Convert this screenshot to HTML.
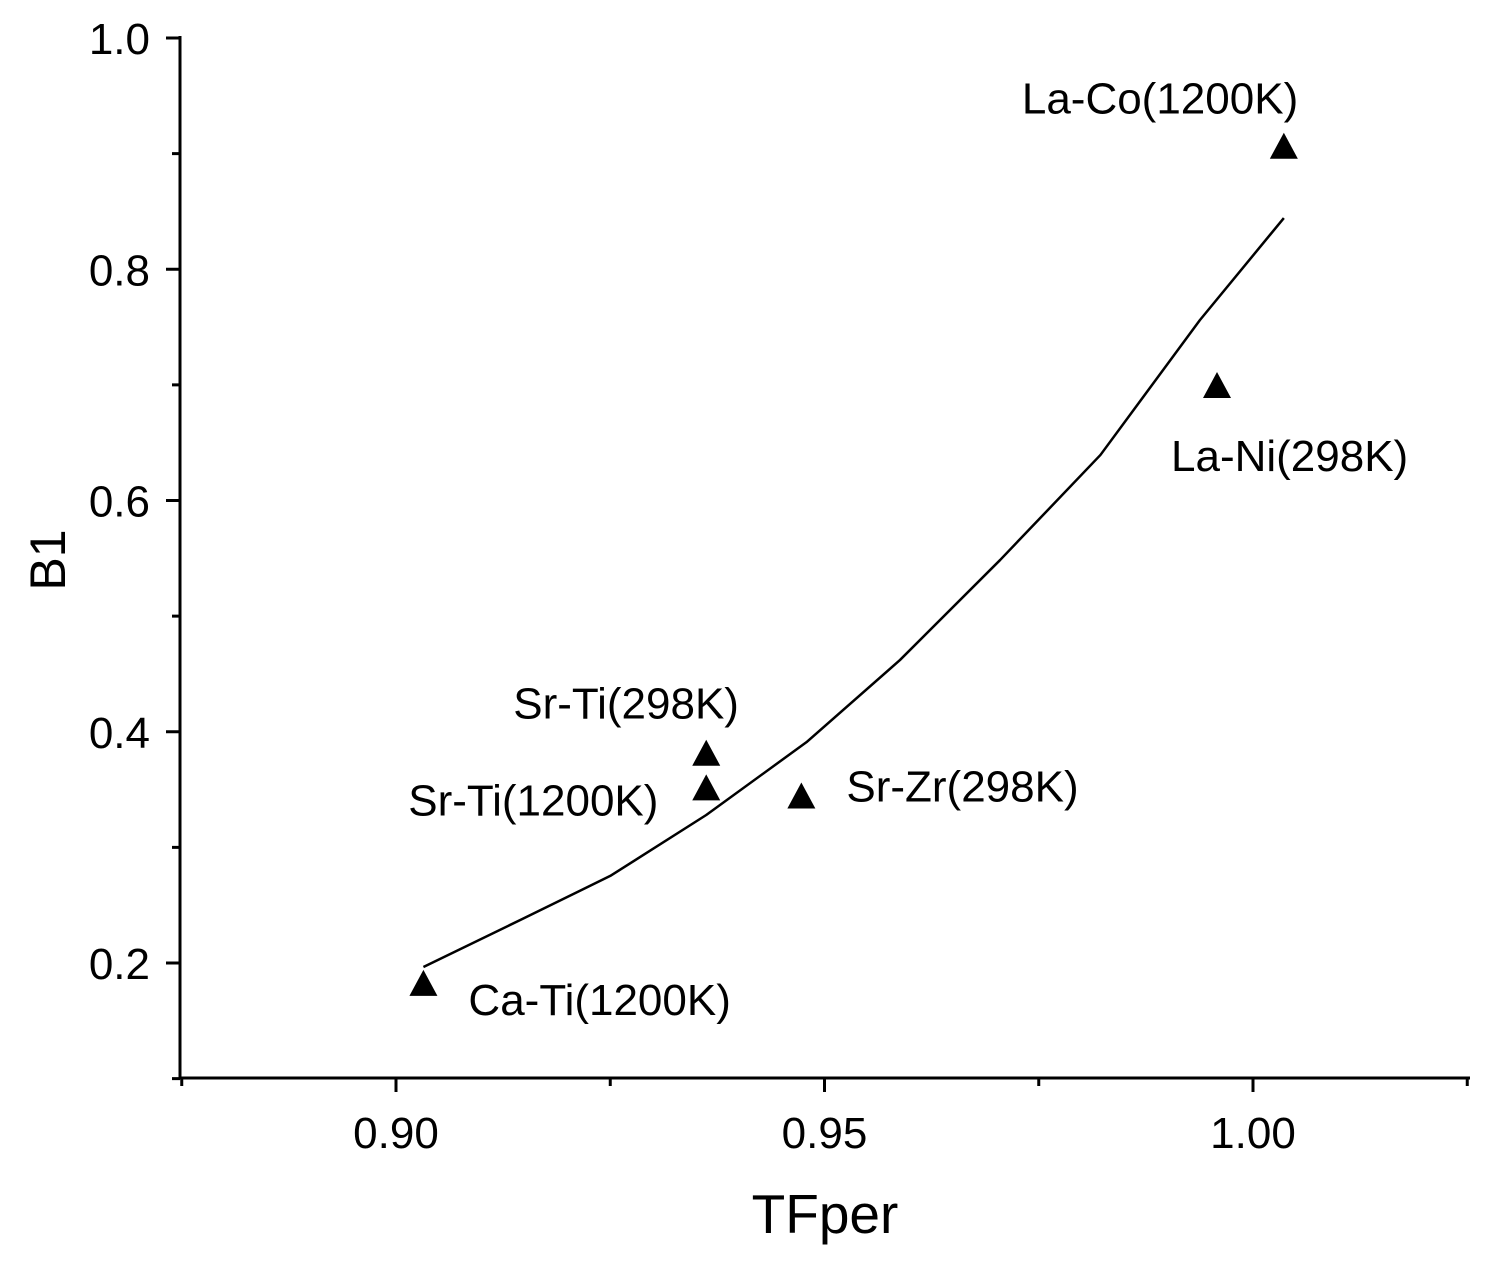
<!DOCTYPE html>
<html><head><meta charset="utf-8"><style>
body{margin:0;background:#fff}
svg{display:block;font-family:"Liberation Sans",Arial,sans-serif}
</style></head><body>
<svg id="chart" width="1493" height="1267" viewBox="0 0 1493 1267">
<g id="axes"></g>
<g id="curve"></g>
<g id="points"></g>
<text x="825" y="1233" font-size="55" text-anchor="middle">TFper</text>
<text transform="translate(65,560) rotate(-90)" font-size="50" text-anchor="middle">B1</text>
</svg>
<script>
const xTicks=[0.90,0.95,1.00];
const xTickLabels=["0.90","0.95","1.00"];
const xMinor=[0.875,0.925,0.975,1.025];
const yTicks=[0.2,0.4,0.6,0.8,1.0];
const yTickLabels=["0.2","0.4","0.6","0.8","1.0"];
const yMinor=[0.1,0.3,0.5,0.7,0.9];
const pointNames=["La-Co(1200K)","La-Ni(298K)","Sr-Ti(298K)","Sr-Ti(1200K)","Sr-Zr(298K)","Ca-Ti(1200K)"];
const pointX=[1.0036,0.9958,0.9362,0.9362,0.9473,0.9032];
const pointY=[0.906,0.699,0.381,0.351,0.344,0.182];
const labelDx=[-262,-46,-193,-298,45,45];
const labelDy=[-33,85,-35,27,5,31];
const curveX=[0.9032,0.9145,0.925,0.9362,0.9479,0.9588,0.9705,0.9822,0.9938,1.0036];
const curveY=[0.1965,0.2372,0.2753,0.328,0.391,0.462,0.5486,0.6394,0.756,0.8443];

const NS="http://www.w3.org/2000/svg";
const sx=v=>396+(v-0.90)*8570;
const sy=v=>38+(1.0-v)*1156.25;
function mk(tag,attrs,parent){const e=document.createElementNS(NS,tag);for(const k in attrs)e.setAttribute(k,attrs[k]);parent.appendChild(e);return e;}
const axes=document.getElementById('axes');
let e=mk('line',{x1:180,y1:36,x2:180,y2:1079,stroke:'#000','stroke-width':3},axes);


e=mk('line',{x1:179,y1:1078,x2:1470,y2:1078,stroke:'#000','stroke-width':3},axes);


xTicks.forEach((v,i)=>{
 let t=mk('line',{x1:sx(v),y1:1078,x2:sx(v),y2:1092,stroke:'#000','stroke-width':3},axes);
 
 
 let l=mk('text',{x:sx(v),y:1148,'font-size':44,'text-anchor':'middle'},axes);l.textContent=xTickLabels[i];
 
 
});
xMinor.forEach(v=>{
 let t=mk('line',{x1:sx(v),y1:1078,x2:sx(v),y2:1086,stroke:'#000','stroke-width':3},axes);
 
 
});
yTicks.forEach((v,i)=>{
 let t=mk('line',{x1:166,y1:sy(v),x2:180,y2:sy(v),stroke:'#000','stroke-width':3},axes);
 
 
 let l=mk('text',{x:150,y:sy(v)+16,'font-size':44,'text-anchor':'end'},axes);l.textContent=yTickLabels[i];
 
 
});
yMinor.forEach(v=>{
 let t=mk('line',{x1:172,y1:sy(v),x2:180,y2:sy(v),stroke:'#000','stroke-width':3},axes);
 
 
});
const cg=document.getElementById('curve');
let p=mk('polyline',{points:curveX.map((v,i)=>sx(v)+','+sy(curveY[i])).join(' '),fill:'none',stroke:'#000','stroke-width':2.5,'stroke-linejoin':'round'},cg);


const pg=document.getElementById('points');
pointX.forEach((v,i)=>{
 const x=sx(v),y=sy(pointY[i]);
 let m=mk('polygon',{points:`${x},${y-14} ${x-14},${y+12} ${x+14},${y+12}`,fill:'#000'},pg);
 
 
 let l=mk('text',{x:x+labelDx[i],y:y+labelDy[i],'font-size':44},pg);l.textContent=pointNames[i];
 
 
});
</script>
</body></html>
